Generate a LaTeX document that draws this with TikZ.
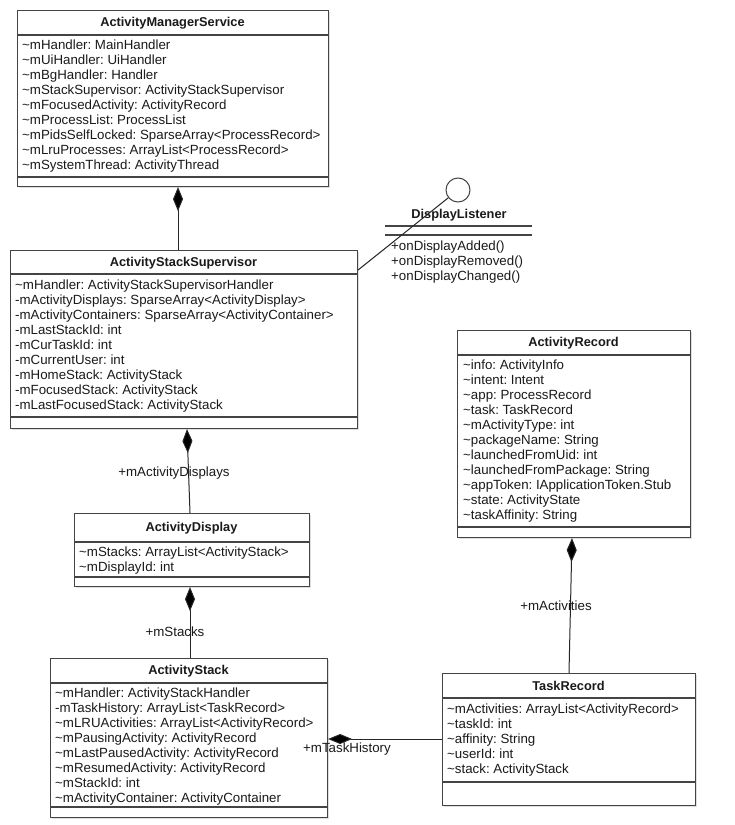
\documentclass[tikz,border=0pt]{standalone}
\usepackage{fontspec}
\setmainfont{Liberation Sans}
\usetikzlibrary{arrows.meta,calc,shadows}
\definecolor{linec}{HTML}{444444}
\definecolor{txt}{HTML}{1A1A1A}
\newcommand{\vis}{\textasciitilde}
\tikzset{
  box/.style={draw=linec, line width=1.1pt, fill=white, inner sep=0pt, anchor=north west,
    drop shadow={shadow xshift=1.6pt, shadow yshift=-1.6pt, opacity=0.25, fill=black!50}},
  sepline/.style={draw=linec, line width=1.1pt},
  attr/.style={anchor=west, inner sep=0pt, text height=9.5pt, text depth=0pt,
    font=\fontsize{13.3}{15}\selectfont, text=txt},
  ttl/.style={inner sep=0pt, text height=9.2pt, text depth=0pt,
    font=\fontsize{12.8}{15}\selectfont\bfseries, text=txt},
  lbl/.style={inner sep=0pt, text height=9.5pt, text depth=0pt,
    font=\fontsize{13.3}{15}\selectfont, text=txt},
  conn/.style={draw=black!85, line width=1pt},
  comp/.style={conn, {Diamond[length=24pt,width=10pt,fill=black]}-},
}
\frenchspacing
\begin{document}
\frenchspacing
\begin{tikzpicture}[x=1pt,y=-1pt]
\useasboundingbox[fill=white] (0,0) rectangle (735,825);

% ---------------- ActivityManagerService
\node[box, minimum width=311pt, minimum height=176pt] (ams) at (17,10) {};
\draw[sepline] ([yshift=-25pt]ams.north west) -- ([yshift=-25pt]ams.north east);
\draw[sepline] ([yshift=-167pt]ams.north west) -- ([yshift=-167pt]ams.north east);
\node[ttl] (ams-t) at (172.5,22) {ActivityManagerService};
\foreach \t [count=\i] in {
  {\vis mHandler: MainHandler},
  {\vis mUiHandler: UiHandler},
  {\vis mBgHandler: Handler},
  {\vis mStackSupervisor: ActivityStackSupervisor},
  {\vis mFocusedActivity: ActivityRecord},
  {\vis mProcessList: ProcessList},
  {\vis mPidsSelfLocked: SparseArray<ProcessRecord>},
  {\vis mLruProcesses: ArrayList<ProcessRecord>},
  {\vis mSystemThread: ActivityThread}}
  \node[attr] (ams-a\i) at (22,{45+15*(\i-1)}) {\t};

% ---------------- ActivityStackSupervisor
\node[box, minimum width=347pt, minimum height=178pt] (ass) at (10,250) {};
\draw[sepline] ([yshift=-24pt]ass.north west) -- ([yshift=-24pt]ass.north east);
\draw[sepline] ([yshift=-167pt]ass.north west) -- ([yshift=-167pt]ass.north east);
\node[ttl] (ass-t) at (183.5,262) {ActivityStackSupervisor};
\foreach \t [count=\i] in {
  {\vis mHandler: ActivityStackSupervisorHandler},
  {-mActivityDisplays: SparseArray<ActivityDisplay>},
  {-mActivityContainers: SparseArray<ActivityContainer>},
  {-mLastStackId: int},
  {-mCurTaskId: int},
  {-mCurrentUser: int},
  {-mHomeStack: ActivityStack},
  {-mFocusedStack: ActivityStack},
  {-mLastFocusedStack: ActivityStack}}
  \node[attr] (ass-a\i) at (15,{285+15*(\i-1)}) {\t};

% ---------------- ActivityDisplay
\node[box, minimum width=235pt, minimum height=73pt] (ad) at (74,513) {};
\draw[sepline] ([yshift=-29pt]ad.north west) -- ([yshift=-29pt]ad.north east);
\draw[sepline] ([yshift=-64pt]ad.north west) -- ([yshift=-64pt]ad.north east);
\node[ttl] (ad-t) at (191.5,527) {ActivityDisplay};
\foreach \t [count=\i] in {
  {\vis mStacks: ArrayList<ActivityStack>},
  {\vis mDisplayId: int}}
  \node[attr] (ad-a\i) at (79,{552+15*(\i-1)}) {\t};

% ---------------- ActivityStack
\node[box, minimum width=277pt, minimum height=159pt] (as) at (50,658) {};
\draw[sepline] ([yshift=-25pt]as.north west) -- ([yshift=-25pt]as.north east);
\draw[sepline] ([yshift=-149pt]as.north west) -- ([yshift=-149pt]as.north east);
\node[ttl] (as-t) at (188.5,670) {ActivityStack};
\foreach \t [count=\i] in {
  {\vis mHandler: ActivityStackHandler},
  {-mTaskHistory: ArrayList<TaskRecord>},
  {\vis mLRUActivities: ArrayList<ActivityRecord>},
  {\vis mPausingActivity: ActivityRecord},
  {\vis mLastPausedActivity: ActivityRecord},
  {\vis mResumedActivity: ActivityRecord},
  {\vis mStackId: int},
  {\vis mActivityContainer: ActivityContainer}}
  \node[attr] (as-a\i) at (55,{693+15*(\i-1)}) {\t};

% ---------------- ActivityRecord
\node[box, minimum width=233pt, minimum height=207pt] (ar) at (457,330) {};
\draw[sepline] ([yshift=-25pt]ar.north west) -- ([yshift=-25pt]ar.north east);
\draw[sepline] ([yshift=-197pt]ar.north west) -- ([yshift=-197pt]ar.north east);
\node[ttl] (ar-t) at (573.5,342) {ActivityRecord};
\foreach \t [count=\i] in {
  {\vis info: ActivityInfo},
  {\vis intent: Intent},
  {\vis app: ProcessRecord},
  {\vis task: TaskRecord},
  {\vis mActivityType: int},
  {\vis packageName: String},
  {\vis launchedFromUid: int},
  {\vis launchedFromPackage: String},
  {\vis appToken: IApplicationToken.Stub},
  {\vis state: ActivityState},
  {\vis taskAffinity: String}}
  \node[attr] (ar-a\i) at (463,{365+15*(\i-1)}) {\t};

% ---------------- TaskRecord
\node[box, minimum width=253pt, minimum height=132pt] (tr) at (442,673) {};
\draw[sepline] ([yshift=-25pt]tr.north west) -- ([yshift=-25pt]tr.north east);
\draw[sepline] ([yshift=-109pt]tr.north west) -- ([yshift=-109pt]tr.north east);
\node[ttl] (tr-t) at (568.5,686) {TaskRecord};
\foreach \t [count=\i] in {
  {\vis mActivities: ArrayList<ActivityRecord>},
  {\vis taskId: int},
  {\vis affinity: String},
  {\vis userId: int},
  {\vis stack: ActivityStack}}
  \node[attr] (tr-a\i) at (447,{709+15*(\i-1)}) {\t};

% ---------------- DisplayListener (interface)
\node[draw=linec, line width=1pt, circle, minimum size=24pt, inner sep=0pt, fill=white] (dlc) at (458,190) {};
\node[ttl] (dl-t) at (459,214) {DisplayListener};
\coordinate (dl-l1w) at (385,226);
\coordinate (dl-l1e) at (532,226);
\coordinate (dl-l2w) at (385,235);
\coordinate (dl-l2e) at (532,235);
\draw[sepline] (dl-l1w) -- (dl-l1e);
\draw[sepline] (dl-l2w) -- (dl-l2e);
\foreach \t [count=\i] in {
  {+onDisplayAdded()},
  {+onDisplayRemoved()},
  {+onDisplayChanged()}}
  \node[attr] (dl-m\i) at (391,{246+15*(\i-1)}) {\t};

% ---------------- connectors
\draw[comp] ([xshift=161pt]ams.south west) -- ([xshift=168pt]ass.north west);
\draw[comp] ([xshift=177pt]ass.south west) -- ([xshift=116pt]ad.north west);
\draw[comp] ([xshift=116pt]ad.south west) -- ([xshift=140pt]as.north west);
\draw[comp] ([xshift=115pt]ar.south west) -- ([xshift=127pt]tr.north west);
\draw[comp] ([yshift=-81pt]as.north east) -- ([yshift=-66pt]tr.north west);
\draw[conn] ([yshift=-20pt]ass.north east) -- (dlc);

% ---------------- connector labels
\node[lbl] (l-disp) at (174,472) {+mActivityDisplays};
\node[lbl] (l-stacks) at (175,632) {+mStacks};
\node[lbl] (l-acts) at (556,606) {+mActivities};
\node[lbl] (l-hist) at (347,748) {+mTaskHistory};
\end{tikzpicture}
\end{document}
